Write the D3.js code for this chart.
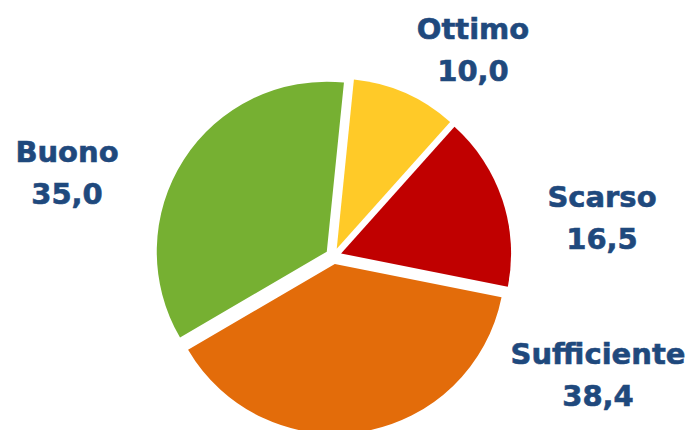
<!DOCTYPE html>
<html>
<head>
<meta charset="utf-8">
<script src="https://cdn.jsdelivr.net/npm/d3@7"></script>
<style>
  html, body { margin: 0; padding: 0; background: #fff; }
  svg { display: block; }
</style>
</head>
<body>
<svg id="chart" width="689" height="430"></svg>
<script>
// Categories and values (clockwise from the top)
const categories = ["Ottimo", "Scarso", "Sufficiente", "Buono"];
const values = [10.0, 16.5, 38.4, 35.0];
const colors = ["#FFCA28", "#C00000", "#E36C0A", "#76B032"];

// Label anchor points (baseline of the first line), layout only
const labelPos = [[473, 39], [602, 207], [598, 364], [67, 162]];

const width = 689, height = 430;
const cx = 333.5, cy = 256, radius = 170, explode = 8;
const startAngle = 5.8 * Math.PI / 180;

const svg = d3.select("#chart");
const g = svg.append("g").attr("transform", `translate(${cx},${cy})`);

const pie = d3.pie().sort(null).value(d => d)
  .startAngle(startAngle).endAngle(startAngle + 2 * Math.PI);
const arc = d3.arc().innerRadius(0).outerRadius(radius);
const fmt = v => d3.format(".1f")(v).replace(".", ",");

const arcs = pie(values);

g.selectAll("path.slice")
  .data(arcs)
  .join("path")
  .attr("class", "slice")
  .attr("fill", (d, i) => colors[i])
  .attr("transform", d => {
    const a = (d.startAngle + d.endAngle) / 2;
    return `translate(${explode * Math.sin(a)},${-explode * Math.cos(a)})`;
  })
  .attr("d", arc);

const labels = svg.selectAll("text.lbl")
  .data(arcs)
  .join("text")
  .attr("class", "lbl")
  .attr("text-anchor", "middle")
  .attr("font-family", "'DejaVu Sans', sans-serif")
  .attr("font-weight", "bold")
  .attr("font-size", 29)
  .attr("fill", "#1F497D")
  .attr("stroke", "#1F497D")
  .attr("stroke-width", 0.6);

labels.append("tspan")
  .attr("x", (d, i) => labelPos[i][0])
  .attr("y", (d, i) => labelPos[i][1])
  .text((d, i) => categories[i]);
labels.append("tspan")
  .attr("x", (d, i) => labelPos[i][0])
  .attr("dy", 42)
  .text(d => fmt(d.data));
</script>
</body>
</html>
